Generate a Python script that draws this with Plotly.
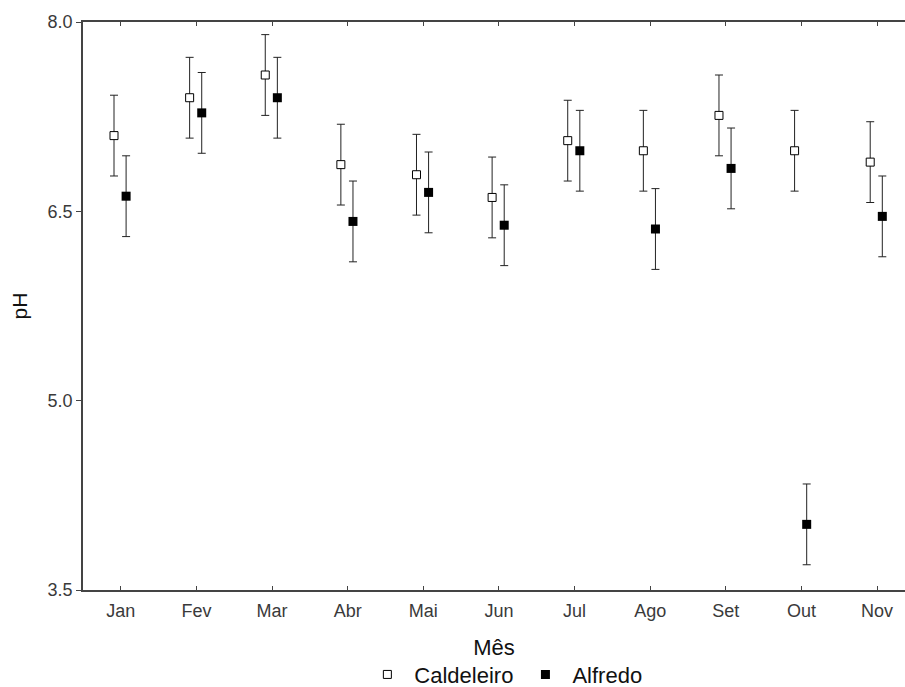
import plotly.graph_objects as go

months = ["Jan", "Fev", "Mar", "Abr", "Mai", "Jun", "Jul", "Ago", "Set", "Out", "Nov"]
caldeleiro = [7.10, 7.40, 7.58, 6.87, 6.79, 6.61, 7.06, 6.98, 7.26, 6.98, 6.89]
caldeleiro_err = [0.32, 0.32, 0.32, 0.32, 0.32, 0.32, 0.32, 0.32, 0.32, 0.32, 0.32]
alfredo = [6.62, 7.28, 7.40, 6.42, 6.65, 6.39, 6.98, 6.36, 6.84, 4.02, 6.46]
alfredo_err = [0.32, 0.32, 0.32, 0.32, 0.32, 0.32, 0.32, 0.32, 0.32, 0.32, 0.32]
y_ticks = [3.5, 5.0, 6.5, 8.0]

idx = list(range(len(months)))
off_c, off_a = -0.09, 0.07

fig = go.Figure()
fig.add_trace(go.Scatter(
    x=[i + off_c for i in idx], y=caldeleiro, mode="markers", name="Caldeleiro",
    marker=dict(symbol="square", size=8, color="white", line=dict(color="black", width=1)),
    error_y=dict(type="data", array=caldeleiro_err, visible=True, color="#222", thickness=1, width=4),
))
fig.add_trace(go.Scatter(
    x=[i + off_a for i in idx], y=alfredo, mode="markers", name="Alfredo",
    marker=dict(symbol="square", size=9, color="black", line=dict(color="black", width=0)),
    error_y=dict(type="data", array=alfredo_err, visible=True, color="#222", thickness=1, width=4),
))

fig.update_layout(
    width=905, height=687,
    margin=dict(l=83, r=0, t=22, b=97, autoexpand=False),
    paper_bgcolor="white", plot_bgcolor="white",
    font=dict(family="Liberation Sans, Arial, sans-serif", color="#111"),
    showlegend=True,
    legend=dict(orientation="h", x=0.512, xanchor="center", y=-0.149, yanchor="middle",
                font=dict(size=22, color="#111"), itemwidth=44, bgcolor="rgba(0,0,0,0)",
                tracegroupgap=0),
    xaxis=dict(
        range=[-0.5, 10.37], tickmode="array", tickvals=idx, ticktext=months,
        showgrid=False, zeroline=False, showline=True, linecolor="#444", linewidth=1.5,
        mirror="allticks", ticks="inside", ticklen=4, tickcolor="#444", automargin=False,
        tickfont=dict(size=18, color="#3a3a3a"), ticklabelstandoff=4,
        title=dict(text="Mês", font=dict(size=22, color="#111"), standoff=19),
    ),
    yaxis=dict(
        range=[3.5, 8.0], tickmode="array", tickvals=y_ticks,
        ticktext=[f"{v:.1f}" for v in y_ticks],
        showgrid=False, zeroline=False, showline=True, linecolor="#444", linewidth=1.5,
        ticks="outside", ticklen=5, tickcolor="#444", automargin=False,
        tickfont=dict(size=18, color="#3a3a3a"),
        title=dict(text="pH", font=dict(size=21, color="#111"), standoff=14),
    ),
)

fig.write_html("out.html",
               post_script="document.body.style.margin='0';document.body.style.overflow='hidden';")
